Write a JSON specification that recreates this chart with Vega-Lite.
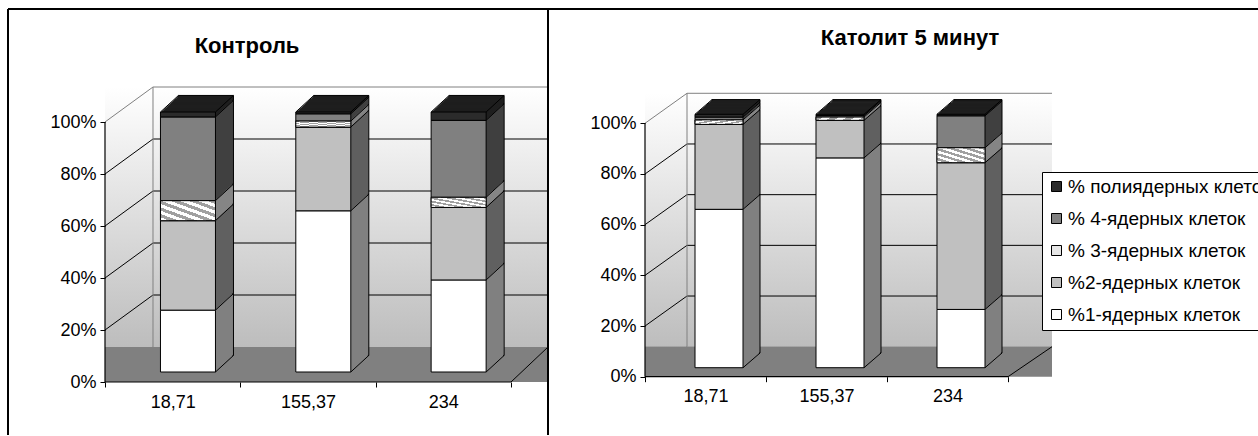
{
"$schema": "https://vega.github.io/schema/vega-lite/v6.json",
"padding": {"left": 7, "top": 8, "right": -8, "bottom": 0},
"background": "white",
"spacing": 0,
"bounds": "flush",
"config": {"font": "Liberation Sans"},
"datasets": {
"bars": [
{"panel": "Контроль", "cat": "18,71", "type": "%1-ядерных клеток", "order": 1, "value": 23.8},
{"panel": "Контроль", "cat": "18,71", "type": "%2-ядерных клеток", "order": 2, "value": 34.4},
{"panel": "Контроль", "cat": "18,71", "type": "% 3-ядерных клеток", "order": 3, "value": 7.7},
{"panel": "Контроль", "cat": "18,71", "type": "% 4-ядерных клеток", "order": 4, "value": 32.2},
{"panel": "Контроль", "cat": "18,71", "type": "% полиядерных клеток", "order": 5, "value": 1.9},
{"panel": "Контроль", "cat": "155,37", "type": "%1-ядерных клеток", "order": 1, "value": 62.0},
{"panel": "Контроль", "cat": "155,37", "type": "%2-ядерных клеток", "order": 2, "value": 32.2},
{"panel": "Контроль", "cat": "155,37", "type": "% 3-ядерных клеток", "order": 3, "value": 2.3},
{"panel": "Контроль", "cat": "155,37", "type": "% 4-ядерных клеток", "order": 4, "value": 2.8},
{"panel": "Контроль", "cat": "155,37", "type": "% полиядерных клеток", "order": 5, "value": 0.7},
{"panel": "Контроль", "cat": "234", "type": "%1-ядерных клеток", "order": 1, "value": 35.4},
{"panel": "Контроль", "cat": "234", "type": "%2-ядерных клеток", "order": 2, "value": 27.9},
{"panel": "Контроль", "cat": "234", "type": "% 3-ядерных клеток", "order": 3, "value": 3.9},
{"panel": "Контроль", "cat": "234", "type": "% 4-ядерных клеток", "order": 4, "value": 29.6},
{"panel": "Контроль", "cat": "234", "type": "% полиядерных клеток", "order": 5, "value": 3.2},
{"panel": "Католит 5 минут", "cat": "18,71", "type": "%1-ядерных клеток", "order": 1, "value": 62.5},
{"panel": "Католит 5 минут", "cat": "18,71", "type": "%2-ядерных клеток", "order": 2, "value": 33.5},
{"panel": "Католит 5 минут", "cat": "18,71", "type": "% 3-ядерных клеток", "order": 3, "value": 1.8},
{"panel": "Католит 5 минут", "cat": "18,71", "type": "% 4-ядерных клеток", "order": 4, "value": 1.1},
{"panel": "Католит 5 минут", "cat": "18,71", "type": "% полиядерных клеток", "order": 5, "value": 1.1},
{"panel": "Католит 5 минут", "cat": "155,37", "type": "%1-ядерных клеток", "order": 1, "value": 82.8},
{"panel": "Католит 5 минут", "cat": "155,37", "type": "%2-ядерных клеток", "order": 2, "value": 14.8},
{"panel": "Католит 5 минут", "cat": "155,37", "type": "% 3-ядерных клеток", "order": 3, "value": 1.3},
{"panel": "Католит 5 минут", "cat": "155,37", "type": "% 4-ядерных клеток", "order": 4, "value": 0.6},
{"panel": "Католит 5 минут", "cat": "155,37", "type": "% полиядерных клеток", "order": 5, "value": 0.5},
{"panel": "Католит 5 минут", "cat": "234", "type": "%1-ядерных клеток", "order": 1, "value": 23.0},
{"panel": "Католит 5 минут", "cat": "234", "type": "%2-ядерных клеток", "order": 2, "value": 57.9},
{"panel": "Католит 5 минут", "cat": "234", "type": "% 3-ядерных клеток", "order": 3, "value": 5.9},
{"panel": "Католит 5 минут", "cat": "234", "type": "% 4-ядерных клеток", "order": 4, "value": 12.6},
{"panel": "Католит 5 минут", "cat": "234", "type": "% полиядерных клеток", "order": 5, "value": 0.6}
],
"ticks": [{"t": 0}, {"t": 20}, {"t": 40}, {"t": 60}, {"t": 80}, {"t": 100}]
},
"resolve": {"scale": {"x": "independent", "y": "independent", "fill": "independent"}, "legend": {"fill": "independent"}},
"hconcat": [
{
"width": 540, "height": 426,
"view": {"stroke": "black", "strokeWidth": 2, "strokeDash": [966, 540, 426, 0], "fill": "white"},
"title": {"text": "Контроль", "font": "Liberation Sans", "fontSize": 22, "fontWeight": "bold", "color": "black", "anchor": "middle", "frame": "group", "offset": 0, "baseline": "alphabetic", "dx": -31, "dy": 66},
"layer": [
{"data": {"values": [{}]},
 "mark": {"type": "bar", "width": 443, "xOffset": 18.5, "yOffset": -35,
  "fill": {"gradient": "linear", "x1": 0, "y1": 0, "x2": 0, "y2": 1, "stops": [{"offset": 0, "color": "#ffffff"}, {"offset": 0.88, "color": "#bdbdbd"}, {"offset": 0.881, "color": "#808080"}, {"offset": 1, "color": "#808080"}]}},
 "encoding": {
  "x": {"datum": "155,37", "type": "nominal", "scale": {"type": "band", "domain": ["18,71", "155,37", "234"], "range": [97, 503], "paddingInner": 0, "paddingOuter": 0},
   "axis": {"orient": "bottom", "offset": -53, "domain": false, "tickBand": "extent", "tickSize": 5, "tickColor": "black", "tickWidth": 1, "labelFontSize": 18, "labelFont": "Liberation Sans", "labelColor": "black", "labelPadding": 6, "labelAngle": 0, "title": null, "grid": false, "zindex": 1}},
  "y": {"datum": 100, "type": "quantitative", "scale": {"domain": [-20.38, 143.46], "nice": false, "zero": false},
   "axis": {"values": [0, 20, 40, 60, 80, 100], "labelExpr": "datum.value + '%'", "offset": -97, "domain": false, "grid": false, "tickSize": 5, "tickColor": "black", "tickWidth": 1, "labelFontSize": 18, "labelFont": "Liberation Sans", "labelColor": "black", "labelPadding": 4, "title": null, "zindex": 1}},
  "y2": {"datum": 0}
 }},
{"data": {"name": "ticks"},
 "mark": {"type": "rule", "strokeWidth": 1, "xOffset": -67.67, "x2Offset": -19.67, "y2Offset": -35},
 "encoding": {
  "x": {"datum": "18,71", "type": "nominal"}, "x2": {"datum": "18,71"},
  "y": {"field": "t", "type": "quantitative"}, "y2": {"field": "t"},
  "stroke": {"condition": {"test": "datum.t == 0 || datum.t == 100", "value": "#808080"}, "value": "black"}
 }},
{"data": {"name": "ticks"}, "transform": [{"filter": "datum.t > 0"}],
 "mark": {"type": "rule", "strokeWidth": 1, "xOffset": -19.67, "x2Offset": 104.67, "yOffset": -35},
 "encoding": {
  "x": {"datum": "18,71", "type": "nominal"}, "x2": {"datum": "234"},
  "y": {"field": "t", "type": "quantitative"},
  "stroke": {"condition": {"test": "datum.t == 100", "value": "#808080"}, "value": "black"}
 }},
{"data": {"values": [{}]},
 "mark": {"type": "rule", "stroke": "#808080", "strokeWidth": 1, "xOffset": -19.67, "yOffset": -35, "y2Offset": -35},
 "encoding": {"x": {"datum": "18,71", "type": "nominal"}, "y": {"datum": 100, "type": "quantitative"}, "y2": {"datum": 0}}},
{"data": {"values": [{}]},
 "mark": {"type": "rule", "stroke": "black", "strokeWidth": 1, "xOffset": 67.67, "x2Offset": 104.67, "y2Offset": -35},
 "encoding": {"x": {"datum": "234", "type": "nominal"}, "x2": {"datum": "234"}, "y": {"datum": 0, "type": "quantitative"}, "y2": {"datum": 0}}},
{"data": {"values": [{}]},
 "mark": {"type": "rule", "stroke": "black", "strokeWidth": 1.2, "xOffset": -67.67, "x2Offset": 67.67},
 "encoding": {"x": {"datum": "18,71", "type": "nominal"}, "x2": {"datum": "234"}, "y": {"datum": 0, "type": "quantitative"}}},
{"data": {"values": [{}]},
 "mark": {"type": "rule", "stroke": "black", "strokeWidth": 1.2, "xOffset": -67.67},
 "encoding": {"x": {"datum": "18,71", "type": "nominal"}, "y": {"datum": 0, "type": "quantitative"}, "y2": {"datum": 100}}},
{"data": {"name": "bars"},
 "transform": [{"filter": "datum.panel == 'Контроль'"}, {"stack": "value", "groupby": ["cat"], "sort": [{"field": "order", "order": "ascending"}], "as": ["v0", "v1"]}],
 "encoding": {
  "x": {"field": "cat", "type": "nominal"},
  "y": {"field": "v0", "type": "quantitative"},
  "y2": {"field": "v1"},
  "fill": {"field": "type", "type": "nominal", "scale": {"domain": ["% полиядерных клеток", "% 4-ядерных клеток", "% 3-ядерных клеток", "%2-ядерных клеток", "%1-ядерных клеток"], "range": ["#1e1e1e", "#404040", "#858585", "#606060", "#808080"]}, "legend": null}
 },
 "resolve": {"scale": {"fill": "independent"}},
 "layer": [
  {"mark": {"type": "bar", "width": 55, "xOffset": 33.3, "yOffset": -26.56, "y2Offset": -26.56, "stroke": "black", "strokeWidth": 1}},
  {"mark": {"type": "bar", "width": 55, "xOffset": 32.3, "yOffset": -25.64, "y2Offset": -25.64}},
  {"mark": {"type": "bar", "width": 55, "xOffset": 31.3, "yOffset": -24.72, "y2Offset": -24.72}},
  {"mark": {"type": "bar", "width": 55, "xOffset": 30.3, "yOffset": -23.8, "y2Offset": -23.8}},
  {"mark": {"type": "bar", "width": 55, "xOffset": 29.3, "yOffset": -22.88, "y2Offset": -22.88}},
  {"mark": {"type": "bar", "width": 55, "xOffset": 28.3, "yOffset": -21.96, "y2Offset": -21.96}},
  {"mark": {"type": "bar", "width": 55, "xOffset": 27.3, "yOffset": -21.04, "y2Offset": -21.04}},
  {"mark": {"type": "bar", "width": 55, "xOffset": 26.3, "yOffset": -20.12, "y2Offset": -20.12}},
  {"mark": {"type": "bar", "width": 55, "xOffset": 25.3, "yOffset": -19.2, "y2Offset": -19.2}},
  {"mark": {"type": "bar", "width": 55, "xOffset": 24.3, "yOffset": -18.28, "y2Offset": -18.28}},
  {"mark": {"type": "bar", "width": 55, "xOffset": 23.3, "yOffset": -17.36, "y2Offset": -17.36}},
  {"mark": {"type": "bar", "width": 55, "xOffset": 22.3, "yOffset": -16.44, "y2Offset": -16.44}},
  {"mark": {"type": "bar", "width": 55, "xOffset": 21.3, "yOffset": -15.52, "y2Offset": -15.52}},
  {"mark": {"type": "bar", "width": 55, "xOffset": 20.3, "yOffset": -14.6, "y2Offset": -14.6}},
  {"mark": {"type": "bar", "width": 55, "xOffset": 19.3, "yOffset": -13.68, "y2Offset": -13.68}},
  {"mark": {"type": "bar", "width": 55, "xOffset": 18.3, "yOffset": -12.76, "y2Offset": -12.76}},
  {"mark": {"type": "bar", "width": 55, "xOffset": 17.3, "yOffset": -11.84, "y2Offset": -11.84}},
  {"mark": {"type": "bar", "width": 55, "xOffset": 16.3, "yOffset": -10.92, "y2Offset": -10.92}},
  {"mark": {"type": "bar", "width": 55, "xOffset": 15.3, "yOffset": -10, "y2Offset": -10, "stroke": "black", "strokeWidth": 1},
   "encoding": {"fill": {"field": "type", "type": "nominal", "scale": {"domain": ["% полиядерных клеток", "% 4-ядерных клеток", "% 3-ядерных клеток", "%2-ядерных клеток", "%1-ядерных клеток"], "range": ["#2b2b2b", "#808080", "#e6e6e6", "#c0c0c0", "#ffffff"]}, "legend": null}}},
  {"transform": [{"filter": "datum.order == 3"}],
   "mark": {"type": "bar", "width": 55, "xOffset": 15.3, "yOffset": -10, "y2Offset": -10, "stroke": "black", "strokeWidth": 1},
   "encoding": {"fill": {"value": {"gradient": "linear", "x1": 0, "y1": 1, "x2": 1, "y2": 0, "stops": [{"offset": 0, "color": "#ffffff"}, {"offset": 0.083, "color": "#ffffff"}, {"offset": 0.083, "color": "#a0a0a0"}, {"offset": 0.167, "color": "#a0a0a0"}, {"offset": 0.167, "color": "#ffffff"}, {"offset": 0.25, "color": "#ffffff"}, {"offset": 0.25, "color": "#a0a0a0"}, {"offset": 0.333, "color": "#a0a0a0"}, {"offset": 0.333, "color": "#ffffff"}, {"offset": 0.417, "color": "#ffffff"}, {"offset": 0.417, "color": "#a0a0a0"}, {"offset": 0.5, "color": "#a0a0a0"}, {"offset": 0.5, "color": "#ffffff"}, {"offset": 0.583, "color": "#ffffff"}, {"offset": 0.583, "color": "#a0a0a0"}, {"offset": 0.667, "color": "#a0a0a0"}, {"offset": 0.667, "color": "#ffffff"}, {"offset": 0.75, "color": "#ffffff"}, {"offset": 0.75, "color": "#a0a0a0"}, {"offset": 0.833, "color": "#a0a0a0"}, {"offset": 0.833, "color": "#ffffff"}, {"offset": 0.917, "color": "#ffffff"}, {"offset": 0.917, "color": "#a0a0a0"}, {"offset": 1, "color": "#a0a0a0"}]}}}},
  {"mark": {"type": "rule", "stroke": "black", "strokeWidth": 1, "xOffset": 42.8, "x2Offset": 60.8, "yOffset": -10, "y2Offset": -26.56},
   "encoding": {"y": {"field": "v1", "type": "quantitative"}, "y2": {"field": "v1"}, "x2": {"field": "cat"}}},
  {"transform": [{"filter": "datum.order == 1"}],
   "mark": {"type": "rule", "stroke": "black", "strokeWidth": 1, "xOffset": 42.8, "x2Offset": 60.8, "yOffset": -10, "y2Offset": -26.56},
   "encoding": {"y": {"field": "v0", "type": "quantitative"}, "y2": {"field": "v0"}, "x2": {"field": "cat"}}},
  {"transform": [{"filter": "datum.order == 5"}],
   "mark": {"type": "rule", "stroke": "black", "strokeWidth": 1, "xOffset": -12.2, "x2Offset": 5.8, "yOffset": -10, "y2Offset": -26.56},
   "encoding": {"y": {"field": "v1", "type": "quantitative"}, "y2": {"field": "v1"}, "x2": {"field": "cat"}}}
 ]}
]
},
{
"width": 710, "height": 426,
"view": {"stroke": "black", "strokeWidth": 2, "strokeDash": [710, 1136, 426, 0], "fill": "white"},
"title": {"text": "Католит 5 минут", "font": "Liberation Sans", "fontSize": 22, "fontWeight": "bold", "color": "black", "anchor": "middle", "frame": "group", "offset": 0, "baseline": "alphabetic", "dx": 7, "dy": 58},
"layer": [
{"data": {"values": [{}]},
 "mark": {"type": "bar", "width": 407, "xOffset": 22, "yOffset": -30,
  "fill": {"gradient": "linear", "x1": 0, "y1": 0, "x2": 0, "y2": 1, "stops": [{"offset": 0, "color": "#ffffff"}, {"offset": 0.893, "color": "#bdbdbd"}, {"offset": 0.894, "color": "#808080"}, {"offset": 1, "color": "#808080"}]}},
 "encoding": {
  "x": {"datum": "155,37", "type": "nominal", "scale": {"type": "band", "domain": ["18,71", "155,37", "234"], "range": [97, 460], "paddingInner": 0, "paddingOuter": 0},
   "axis": {"orient": "bottom", "offset": -58.3, "domain": false, "tickBand": "extent", "tickSize": 5, "tickColor": "black", "tickWidth": 1, "labelFontSize": 18, "labelFont": "Liberation Sans", "labelColor": "black", "labelPadding": 6, "labelAngle": 0, "title": null, "grid": false, "zindex": 1}},
  "y": {"datum": 100, "type": "quantitative", "scale": {"domain": [-23.0, 145.1], "nice": false, "zero": false},
   "axis": {"values": [0, 20, 40, 60, 80, 100], "labelExpr": "datum.value + '%'", "offset": -97, "domain": false, "grid": false, "tickSize": 5, "tickColor": "black", "tickWidth": 1, "labelFontSize": 18, "labelFont": "Liberation Sans", "labelColor": "black", "labelPadding": 4, "title": null, "zindex": 1}},
  "y2": {"datum": 0}
 }},
{"data": {"name": "ticks"},
 "mark": {"type": "rule", "strokeWidth": 1, "xOffset": -60.5, "x2Offset": -18.5, "y2Offset": -30},
 "encoding": {
  "x": {"datum": "18,71", "type": "nominal"}, "x2": {"datum": "18,71"},
  "y": {"field": "t", "type": "quantitative"}, "y2": {"field": "t"},
  "stroke": {"condition": {"test": "datum.t == 0 || datum.t == 100", "value": "#808080"}, "value": "black"}
 }},
{"data": {"name": "ticks"}, "transform": [{"filter": "datum.t > 0"}],
 "mark": {"type": "rule", "strokeWidth": 1, "xOffset": -18.5, "x2Offset": 104.5, "yOffset": -30},
 "encoding": {
  "x": {"datum": "18,71", "type": "nominal"}, "x2": {"datum": "234"},
  "y": {"field": "t", "type": "quantitative"},
  "stroke": {"condition": {"test": "datum.t == 100", "value": "#808080"}, "value": "black"}
 }},
{"data": {"values": [{}]},
 "mark": {"type": "rule", "stroke": "#808080", "strokeWidth": 1, "xOffset": -18.5, "yOffset": -30, "y2Offset": -30},
 "encoding": {"x": {"datum": "18,71", "type": "nominal"}, "y": {"datum": 100, "type": "quantitative"}, "y2": {"datum": 0}}},
{"data": {"values": [{}]},
 "mark": {"type": "rule", "stroke": "black", "strokeWidth": 1, "xOffset": 60.5, "x2Offset": 104.5, "y2Offset": -30},
 "encoding": {"x": {"datum": "234", "type": "nominal"}, "x2": {"datum": "234"}, "y": {"datum": 0, "type": "quantitative"}, "y2": {"datum": 0}}},
{"data": {"values": [{}]},
 "mark": {"type": "rule", "stroke": "black", "strokeWidth": 1.2, "xOffset": -60.5, "x2Offset": 60.5},
 "encoding": {"x": {"datum": "18,71", "type": "nominal"}, "x2": {"datum": "234"}, "y": {"datum": 0, "type": "quantitative"}}},
{"data": {"values": [{}]},
 "mark": {"type": "rule", "stroke": "black", "strokeWidth": 1.2, "xOffset": -60.5},
 "encoding": {"x": {"datum": "18,71", "type": "nominal"}, "y": {"datum": 0, "type": "quantitative"}, "y2": {"datum": 100}}},
{"data": {"name": "bars"},
 "transform": [{"filter": "datum.panel == 'Католит 5 минут'"}, {"stack": "value", "groupby": ["cat"], "sort": [{"field": "order", "order": "ascending"}], "as": ["v0", "v1"]}],
 "encoding": {
  "x": {"field": "cat", "type": "nominal"},
  "y": {"field": "v0", "type": "quantitative"},
  "y2": {"field": "v1"},
  "fill": {"field": "type", "type": "nominal", "scale": {"domain": ["% полиядерных клеток", "% 4-ядерных клеток", "% 3-ядерных клеток", "%2-ядерных клеток", "%1-ядерных клеток"], "range": ["#1e1e1e", "#404040", "#858585", "#606060", "#808080"]}, "legend": null}
 },
 "resolve": {"scale": {"fill": "independent"}},
 "layer": [
  {"mark": {"type": "bar", "width": 48, "xOffset": 30.5, "yOffset": -23.71, "y2Offset": -23.71, "stroke": "black", "strokeWidth": 1}},
  {"mark": {"type": "bar", "width": 48, "xOffset": 29.5, "yOffset": -22.84, "y2Offset": -22.84}},
  {"mark": {"type": "bar", "width": 48, "xOffset": 28.5, "yOffset": -21.98, "y2Offset": -21.98}},
  {"mark": {"type": "bar", "width": 48, "xOffset": 27.5, "yOffset": -21.11, "y2Offset": -21.11}},
  {"mark": {"type": "bar", "width": 48, "xOffset": 26.5, "yOffset": -20.25, "y2Offset": -20.25}},
  {"mark": {"type": "bar", "width": 48, "xOffset": 25.5, "yOffset": -19.38, "y2Offset": -19.38}},
  {"mark": {"type": "bar", "width": 48, "xOffset": 24.5, "yOffset": -18.52, "y2Offset": -18.52}},
  {"mark": {"type": "bar", "width": 48, "xOffset": 23.5, "yOffset": -17.65, "y2Offset": -17.65}},
  {"mark": {"type": "bar", "width": 48, "xOffset": 22.5, "yOffset": -16.79, "y2Offset": -16.79}},
  {"mark": {"type": "bar", "width": 48, "xOffset": 21.5, "yOffset": -15.92, "y2Offset": -15.92}},
  {"mark": {"type": "bar", "width": 48, "xOffset": 20.5, "yOffset": -15.06, "y2Offset": -15.06}},
  {"mark": {"type": "bar", "width": 48, "xOffset": 19.5, "yOffset": -14.19, "y2Offset": -14.19}},
  {"mark": {"type": "bar", "width": 48, "xOffset": 18.5, "yOffset": -13.33, "y2Offset": -13.33}},
  {"mark": {"type": "bar", "width": 48, "xOffset": 17.5, "yOffset": -12.46, "y2Offset": -12.46}},
  {"mark": {"type": "bar", "width": 48, "xOffset": 16.5, "yOffset": -11.6, "y2Offset": -11.6}},
  {"mark": {"type": "bar", "width": 48, "xOffset": 15.5, "yOffset": -10.73, "y2Offset": -10.73}},
  {"mark": {"type": "bar", "width": 48, "xOffset": 14.5, "yOffset": -9.87, "y2Offset": -9.87}},
  {"mark": {"type": "bar", "width": 48, "xOffset": 13.5, "yOffset": -9, "y2Offset": -9, "stroke": "black", "strokeWidth": 1},
   "encoding": {"fill": {"field": "type", "type": "nominal", "scale": {"domain": ["% полиядерных клеток", "% 4-ядерных клеток", "% 3-ядерных клеток", "%2-ядерных клеток", "%1-ядерных клеток"], "range": ["#2b2b2b", "#808080", "#e6e6e6", "#c0c0c0", "#ffffff"]},
    "legend": {"orient": "none", "legendX": 494, "legendY": 163, "title": null, "symbolType": "square", "symbolSize": 100, "symbolStrokeColor": "black", "symbolStrokeWidth": 1, "labelFontSize": 19, "labelFont": "Liberation Sans", "labelColor": "black", "labelLimit": 400, "rowPadding": 12, "padding": 5, "strokeColor": "black", "fillColor": "white", "labelOffset": 2, "zindex": 2}}}},
  {"transform": [{"filter": "datum.order == 3"}],
   "mark": {"type": "bar", "width": 48, "xOffset": 13.5, "yOffset": -9, "y2Offset": -9, "stroke": "black", "strokeWidth": 1},
   "encoding": {"fill": {"value": {"gradient": "linear", "x1": 0, "y1": 1, "x2": 1, "y2": 0, "stops": [{"offset": 0, "color": "#ffffff"}, {"offset": 0.083, "color": "#ffffff"}, {"offset": 0.083, "color": "#a0a0a0"}, {"offset": 0.167, "color": "#a0a0a0"}, {"offset": 0.167, "color": "#ffffff"}, {"offset": 0.25, "color": "#ffffff"}, {"offset": 0.25, "color": "#a0a0a0"}, {"offset": 0.333, "color": "#a0a0a0"}, {"offset": 0.333, "color": "#ffffff"}, {"offset": 0.417, "color": "#ffffff"}, {"offset": 0.417, "color": "#a0a0a0"}, {"offset": 0.5, "color": "#a0a0a0"}, {"offset": 0.5, "color": "#ffffff"}, {"offset": 0.583, "color": "#ffffff"}, {"offset": 0.583, "color": "#a0a0a0"}, {"offset": 0.667, "color": "#a0a0a0"}, {"offset": 0.667, "color": "#ffffff"}, {"offset": 0.75, "color": "#ffffff"}, {"offset": 0.75, "color": "#a0a0a0"}, {"offset": 0.833, "color": "#a0a0a0"}, {"offset": 0.833, "color": "#ffffff"}, {"offset": 0.917, "color": "#ffffff"}, {"offset": 0.917, "color": "#a0a0a0"}, {"offset": 1, "color": "#a0a0a0"}]}}}},
  {"mark": {"type": "rule", "stroke": "black", "strokeWidth": 1, "xOffset": 37.5, "x2Offset": 54.5, "yOffset": -9, "y2Offset": -23.71},
   "encoding": {"y": {"field": "v1", "type": "quantitative"}, "y2": {"field": "v1"}, "x2": {"field": "cat"}}},
  {"transform": [{"filter": "datum.order == 1"}],
   "mark": {"type": "rule", "stroke": "black", "strokeWidth": 1, "xOffset": 37.5, "x2Offset": 54.5, "yOffset": -9, "y2Offset": -23.71},
   "encoding": {"y": {"field": "v0", "type": "quantitative"}, "y2": {"field": "v0"}, "x2": {"field": "cat"}}},
  {"transform": [{"filter": "datum.order == 5"}],
   "mark": {"type": "rule", "stroke": "black", "strokeWidth": 1, "xOffset": -10.5, "x2Offset": 6.5, "yOffset": -9, "y2Offset": -23.71},
   "encoding": {"y": {"field": "v1", "type": "quantitative"}, "y2": {"field": "v1"}, "x2": {"field": "cat"}}}
 ]}
]
}
]
}
